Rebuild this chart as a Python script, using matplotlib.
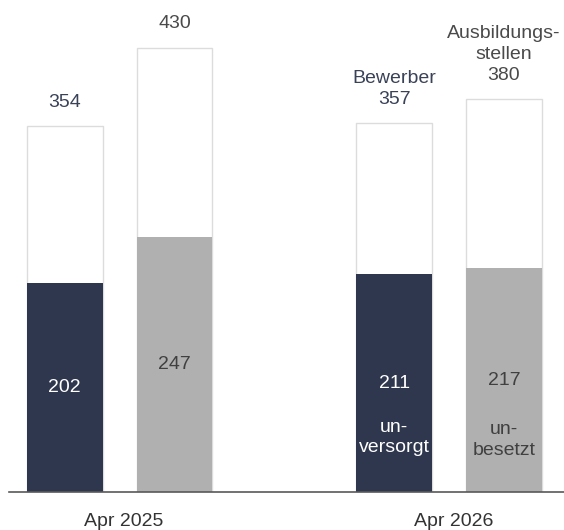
import numpy as np
import matplotlib.pyplot as plt

# Daten
monate = ['Apr 2025', 'Apr 2026']
bewerber = [354, 357]
unversorgt = [202, 211]
stellen = [430, 380]
unbesetzt = [247, 217]

navy = '#2f374e'
grau = '#b0b0b0'
rand = '#dcdcdc'

plt.rcParams['font.family'] = ['Liberation Sans', 'DejaVu Sans']
plt.rcParams['font.size'] = 14

fig = plt.figure(figsize=(5.64, 5.30), dpi=100)
ax = fig.add_axes([9 / 564, 0.0711, 1 - 9 / 564, 1 - 0.0711])

x_bew = np.array([0, 3])
x_st = np.array([1, 4])
w = 0.69

# Gesamtbalken (weiss mit Rand), dann Anteil unversorgt/unbesetzt
ax.bar(x_bew, bewerber, w, color='white', edgecolor=rand, linewidth=1, zorder=1)
ax.bar(x_st, stellen, w, color='white', edgecolor=rand, linewidth=1, zorder=1)
ax.bar(x_bew, unversorgt, w, color=navy, linewidth=0, zorder=2)
ax.bar(x_st, unbesetzt, w, color=grau, linewidth=0, zorder=2)

# Werte oben
ax.text(x_bew[0], bewerber[0] + 15, str(bewerber[0]), ha='center', va='bottom', color='#3a4258')
ax.text(x_st[0], stellen[0] + 15, str(stellen[0]), ha='center', va='bottom', color='#4a4a4a')
ax.text(x_bew[1], bewerber[1] + 15, 'Bewerber\n' + str(bewerber[1]), ha='center', va='bottom',
        color='#3a4258', linespacing=1.3)
ax.text(x_st[1], stellen[1] + 15, 'Ausbildungs-\nstellen\n' + str(stellen[1]), ha='center', va='bottom',
        color='#4a4a4a', linespacing=1.3)

# Werte in den Balken
for i in range(2):
    ax.text(x_bew[i], unversorgt[i] / 2, str(unversorgt[i]), ha='center', va='center', color='white')
    ax.text(x_st[i], unbesetzt[i] / 2, str(unbesetzt[i]), ha='center', va='center', color='#404040')

ax.text(x_bew[1], 53, 'un-\nversorgt', ha='center', va='center', color='white', linespacing=1.3)
ax.text(x_st[1], 50.5, 'un-\nbesetzt', ha='center', va='center', color='#404040', linespacing=1.3)

ax.set_xlim(-0.507, 4.547)
ax.set_ylim(0, 476)
ax.set_xticks([0.54, 3.54])
ax.set_xticklabels(monate, color='#333333')
ax.tick_params(axis='x', length=0, pad=15)
ax.set_yticks([])
for s in ['top', 'right', 'left']:
    ax.spines[s].set_visible(False)
ax.spines['bottom'].set_color('#595959')
ax.spines['bottom'].set_linewidth(1.2)

plt.savefig('out.png', dpi=100)
